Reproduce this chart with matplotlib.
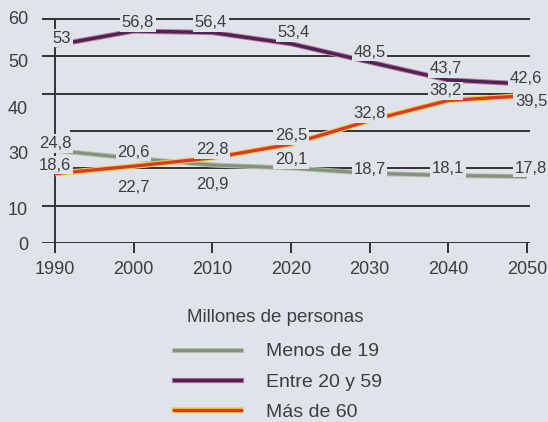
import matplotlib
matplotlib.use("Agg")
import matplotlib.pyplot as plt
from matplotlib.lines import Line2D

plt.rcParams['font.family'] = ['Liberation Sans', 'DejaVu Sans']

# data (millones de personas)
years = [1990, 2000, 2010, 2020, 2030, 2040, 2050]
menos_19 = [24.8, 22.7, 20.9, 20.1, 18.7, 18.1, 17.8]
entre_20_59 = [53, 56.8, 56.4, 53.4, 48.5, 43.7, 42.6]
mas_60 = [18.6, 20.6, 22.8, 26.5, 32.8, 38.2, 39.5]

series_names = ["Menos de 19", "Entre 20 y 59", "Más de 60"]
legend_title = "Millones de personas"
ytick_labels = ["0", "10", "30", "40", "50", "60"]

# label offsets in points (dx, dy) for each value, as placed in the original
off_menos = [(0, 5), (0, -21), (0, -14), (0, 6), (0, 3), (0, 5), (3, 6)]
off_entre = [(5, 5), (3, 6), (-1, 7), (2, 8), (0, 7), (-2, 8), (-1, 4)]
off_mas = [(0, 6), (0, 10), (0, 6), (0, 6), (0, 5), (-2, 7), (3, -4)]

bg = "#dfe3ea"
txt = "#3d3d3d"
grid_c = "#333333"

fig = plt.figure(figsize=(5.48, 4.22), dpi=100, facecolor=bg)
ax = fig.add_axes([42 / 548, 1 - 243 / 422, (530 - 42) / 548, (243 - 18) / 422])
ax.set_facecolor(bg)
ax.set_xlim(1988.35, 2050.4)
ax.set_ylim(0, 60)

for s in ax.spines.values():
    s.set_visible(False)

# horizontal lines every 10 (20 and 30 start a bit later, as in the original)
for v in range(0, 61, 10):
    start = 0.06 if v in (20, 30) else 0
    ax.axhline(v, xmin=start, color=grid_c, lw=1.4, zorder=1)
# vertical axis at 1990
ax.plot([years[0], years[0]], [-1.2, 60], color=grid_c, lw=1.4, zorder=1, clip_on=False)

# series lines
ax.plot(years, menos_19, color="#b4beae", lw=3.6, zorder=3, solid_capstyle="butt")
ax.plot(years, menos_19, color="#84927f", lw=2.2, zorder=3, solid_capstyle="butt")
ax.plot(years, entre_20_59, color="#c07aa8", lw=3.8, zorder=3, solid_capstyle="butt")
ax.plot(years, entre_20_59, color="#4e2450", lw=2.4, zorder=3, solid_capstyle="butt")
ax.plot(years, mas_60, color="#f2d24a", lw=4.0, zorder=3, solid_capstyle="butt")
ax.plot(years, mas_60, color="#d9382a", lw=2.4, zorder=3, solid_capstyle="butt")

# value labels
def put_labels(vals, offs):
    for x, v, (dx, dy) in zip(years, vals, offs):
        ax.annotate(f"{v:g}".replace(".", ","), (x, v), xytext=(dx, dy),
                    textcoords="offset points", ha="center", va="center",
                    fontsize=12, color=txt, zorder=5, annotation_clip=False,
                    bbox=dict(boxstyle="square,pad=0.1", fc=bg, ec=bg, lw=0))

put_labels(menos_19, off_menos)
put_labels(entre_20_59, off_entre)
put_labels(mas_60, off_mas)

# ticks
ax.set_xticks(years)
ax.set_xticklabels([str(y) for y in years])
ax.tick_params(axis="x", length=7, width=1.4, color=grid_c, direction="out",
               pad=6, labelsize=13, labelcolor=txt)
ax.set_yticks([0, 9.3, 24.3, 36.3, 48.8, 60.3])
ax.set_yticklabels(ytick_labels)
ax.tick_params(axis="y", length=0, pad=10, labelsize=13, labelcolor=txt)

# legend
fig.text(187 / 548, 1 - 318 / 422, legend_title, fontsize=13.5, color=txt,
         ha="left", va="center")
h1 = (Line2D([], [], color="#b4beae", lw=3.6), Line2D([], [], color="#84927f", lw=2.2))
h2 = (Line2D([], [], color="#c07aa8", lw=3.8), Line2D([], [], color="#4e2450", lw=2.4))
h3 = (Line2D([], [], color="#f2d24a", lw=4.0), Line2D([], [], color="#d9382a", lw=2.4))
leg = fig.legend([h1, h2, h3], series_names,
                 loc="upper left", bbox_to_anchor=(164 / 548, 1 - 333 / 422),
                 frameon=False, fontsize=14,
                 handlelength=3.45, handletextpad=1.3, labelspacing=0.65,
                 borderpad=0)
for t in leg.get_texts():
    t.set_color(txt)

fig.savefig("out.png", dpi=100, facecolor=bg)
